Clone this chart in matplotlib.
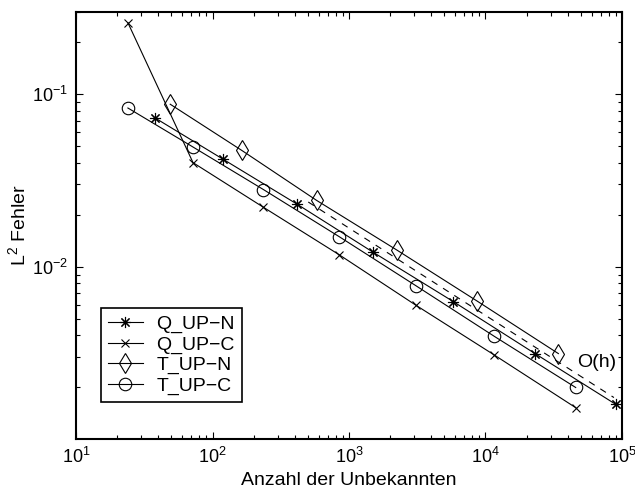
import numpy as np
import matplotlib
matplotlib.use("Agg")
import matplotlib.pyplot as plt

plt.rcParams['font.family'] = ['Liberation Sans', 'DejaVu Sans']
plt.rcParams['mathtext.fontset'] = 'custom'
plt.rcParams['mathtext.rm'] = 'Liberation Sans'
plt.rcParams['mathtext.it'] = 'Liberation Sans:italic'
plt.rcParams['font.size'] = 13

# number of unknowns and L2 errors
q_n_x = [38, 120, 414, 1507, 5806, 23060, 89900]
q_n_err = [0.0728, 0.0419, 0.0231, 0.0121, 0.00627, 0.00313, 0.00159]

q_c_x = [24, 72, 236, 850, 3083, 11610, 45800]
q_c_err = [0.2598, 0.0401, 0.0221, 0.0117, 0.00598, 0.00307, 0.00152]

t_n_x = [49, 164, 580, 2234, 8610, 34200]
t_n_err = [0.0875, 0.0472, 0.0242, 0.0125, 0.00634, 0.00313]

t_c_x = [24, 72, 236, 850, 3083, 11610, 45800]
t_c_err = [0.0832, 0.0494, 0.0280, 0.0149, 0.00776, 0.00394, 0.00199]

# reference slope line O(h)
ref_x = [503, 87300]
ref_err = [0.0237, 0.00174]

y_major = [0.01, 0.1]

fig = plt.figure(figsize=(6.35, 4.93), dpi=100)
ax = fig.add_axes([0.1197, 0.1095, 0.8598, 0.8662])

lw = 0.8
ax.loglog(q_n_x, q_n_err, color='k', lw=lw, marker=(8, 2, 0), ms=8, mew=0.8, label='Q_UP\u2212N')
ax.loglog(q_c_x, q_c_err, color='k', lw=lw, marker='x', ms=6, mew=0.8, label='Q_UP\u2212C')
ax.loglog(t_n_x, t_n_err, color='k', lw=lw, marker='d', ms=10, mew=0.8, mfc='none', label='T_UP\u2212N')
ax.loglog(t_c_x, t_c_err, color='k', lw=lw, marker='o', ms=9, mew=0.8, mfc='none', label='T_UP\u2212C')
ax.loglog(ref_x, ref_err, color='k', lw=lw, ls=(0, (6, 6)))
ax.text(65300, 0.00278, 'O(h)', ha='center', va='center', fontsize=14)

ax.set_xlim(10, 1e5)
ax.set_ylim(1e-3, 0.3)
ax.set_yticks(y_major)
ax.set_xlabel('Anzahl der Unbekannten', labelpad=3, fontsize=14)
ax.set_ylabel('$\\mathregular{L^2}$ Fehler', labelpad=2, fontsize=14)

ax.tick_params(which='both', direction='in', top=True, right=True)
ax.tick_params(which='major', length=5, width=0.8, pad=6)
ax.tick_params(which='minor', length=3, width=0.8)
for s in ax.spines.values():
    s.set_linewidth(1.5)

leg = ax.legend(loc='lower left', bbox_to_anchor=(0.028, 0.064), frameon=True,
                fancybox=False, edgecolor='k', framealpha=1, handlelength=1.8,
                labelspacing=0.15, borderpad=0.35, handletextpad=0.7, fontsize=14)
leg.get_frame().set_linewidth(1.2)

fig.savefig('out.png', dpi=100)
